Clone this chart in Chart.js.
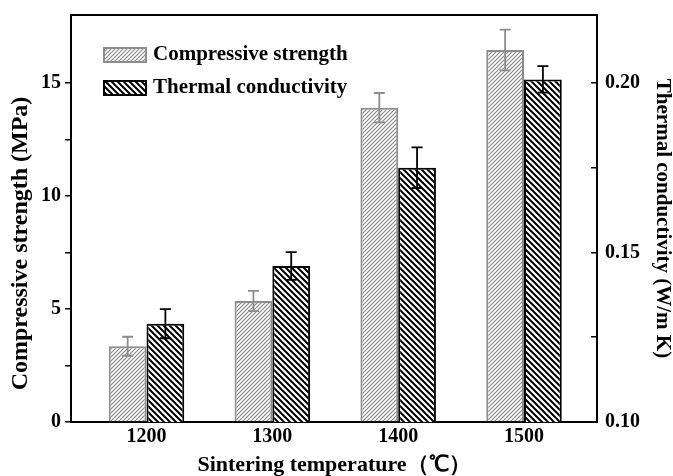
<!DOCTYPE html>
<html>
<head>
<meta charset="utf-8">
<script src="https://cdn.jsdelivr.net/npm/chart.js@4.4.0/dist/chart.umd.min.js"></script>
<style>
  html, body { margin: 0; padding: 0; background: #fff; }
</style>
</head>
<body>
<canvas id="myChart" width="673" height="476"></canvas>
<script>
var temps = [1200, 1300, 1400, 1500];
var compStrength = [3.35, 5.35, 13.9, 16.45];
var compErr = [0.42, 0.45, 0.65, 0.9];
var thermCond = [0.129, 0.146, 0.175, 0.201];
var thermErr = [0.0043, 0.0041, 0.006, 0.0039];
var leftTicks = [0, 5, 10, 15];
var rightTicks = [0.10, 0.15, 0.20];

var serif = "'Liberation Serif', 'Times New Roman', serif";
Chart.defaults.font.family = serif;
Chart.defaults.color = "#000";

var ctx = document.getElementById("myChart").getContext("2d");

// diagonal hatch fill
function hatch(dir, size, lineColor, lineWidth) {
  var c = document.createElement("canvas");
  c.width = size;
  c.height = size;
  var g = c.getContext("2d");
  g.fillStyle = "#fff";
  g.fillRect(0, 0, size, size);
  g.strokeStyle = lineColor;
  g.lineWidth = lineWidth;
  g.beginPath();
  if (dir === "/") {
    g.moveTo(-1, size + 1); g.lineTo(size + 1, -1);
    g.moveTo(-1, 1); g.lineTo(1, -1);
    g.moveTo(size - 1, size + 1); g.lineTo(size + 1, size - 1);
  } else {
    g.moveTo(-1, -1); g.lineTo(size + 1, size + 1);
    g.moveTo(-1, size - 1); g.lineTo(1, size + 1);
    g.moveTo(size - 1, -1); g.lineTo(size + 1, 1);
  }
  g.stroke();
  return ctx.createPattern(c, "repeat");
}

function points(ys) {
  return temps.map(function (t, i) { return { x: t, y: ys[i] }; });
}

function stepTicks(list) {
  return function (v) {
    for (var i = 0; i < list.length; i++) {
      if (Math.abs(list[i] - v) < 1e-9) return v === 0 ? "0" : (list[i] < 1 ? list[i].toFixed(2) : String(list[i]));
    }
    return "";
  };
}

function dropTop(scale) {
  var mx = scale.max;
  scale.ticks = scale.ticks.filter(function (t) { return t.value < mx - 1e-9; });
}

function fixWidth(w) {
  return function (s) {
    s.width = w;
    s.paddingTop = 0;
    s.paddingBottom = 0;
  };
}

var errorBars = {
  id: "errorBars",
  afterDatasetsDraw: function (chart) {
    var c = chart.ctx;
    chart.data.datasets.forEach(function (ds, i) {
      var meta = chart.getDatasetMeta(i);
      var scale = chart.scales[ds.yAxisID];
      c.save();
      c.strokeStyle = ds.borderColor;
      c.lineWidth = 1.8;
      meta.data.forEach(function (bar, j) {
        var v = ds.data[j].y, e = ds.errors[j];
        var yt = scale.getPixelForValue(v + e);
        var yb = scale.getPixelForValue(v - e);
        c.beginPath();
        c.moveTo(bar.x, yt); c.lineTo(bar.x, yb);
        c.moveTo(bar.x - 5.5, yt); c.lineTo(bar.x + 5.5, yt);
        c.moveTo(bar.x - 5.5, yb); c.lineTo(bar.x + 5.5, yb);
        c.stroke();
      });
      c.restore();
    });
  }
};

// top frame line, legend inside the plot, left axis title
var frameAndLegend = {
  id: "frameAndLegend",
  afterDraw: function (chart) {
    var c = chart.ctx, a = chart.chartArea;
    c.save();
    c.strokeStyle = "#000";
    c.lineWidth = 2;
    c.beginPath();
    c.moveTo(a.left - 1, a.top);
    c.lineTo(a.right + 1, a.top);
    c.stroke();

    var x = a.left + 33, y = a.top + 33;
    chart.data.datasets.forEach(function (ds, i) {
      var yy = y + i * 33;
      c.fillStyle = ds.backgroundColor;
      c.fillRect(x, yy, 42, 14);
      c.lineWidth = 2;
      c.strokeStyle = ds.borderColor;
      c.strokeRect(x, yy, 42, 14);
      c.fillStyle = "#000";
      c.font = "bold 21px " + serif;
      c.textBaseline = "middle";
      c.fillText(ds.label, x + 49, yy + 7);
    });

    c.translate(21, (a.top + a.bottom) / 2 + 25);
    c.rotate(-Math.PI / 2);
    c.font = "bold 24px " + serif;
    c.textAlign = "center";
    c.textBaseline = "middle";
    c.fillText("Compressive strength (MPa)", 0, 0);
    c.restore();
  }
};

var myChart = new Chart(ctx, {
  type: "bar",
  data: {
    datasets: [
      {
        label: "Compressive strength",
        data: points(compStrength),
        errors: compErr,
        yAxisID: "y",
        backgroundColor: hatch("/", 4, "#8a8a8a", 1.2),
        borderColor: "#8c8c8c",
        borderWidth: 2
      },
      {
        label: "Thermal conductivity",
        data: points(thermCond),
        errors: thermErr,
        yAxisID: "y1",
        backgroundColor: hatch("\\", 6, "#000", 2),
        borderColor: "#000",
        borderWidth: 2
      }
    ]
  },
  options: {
    responsive: false,
    animation: false,
    layout: { padding: { top: 15, left: 0, right: 0, bottom: 0 } },
    categoryPercentage: 0.6,
    barPercentage: 1.0,
    plugins: { legend: { display: false }, tooltip: { enabled: false } },
    scales: {
      x: {
        type: "linear",
        offset: false,
        min: 1140,
        max: 1558,
        afterBuildTicks: function (s) { s.ticks = temps.map(function (t) { return { value: t }; }); },
        afterFit: function (s) { s.height = 54; s.paddingLeft = 0; s.paddingRight = 0; },
        grid: { display: false, drawTicks: false, offset: false },
        border: { color: "#000", width: 2 },
        ticks: { font: { size: 20, weight: "bold" }, padding: 3, callback: function (v) { return String(v); } },
        title: { display: true, text: "Sintering temperature（℃）", font: { size: 22, weight: "bold", lineHeight: 1 }, padding: 0 }
      },
      y: {
        position: "left",
        min: 0,
        max: 18,
        afterBuildTicks: dropTop,
        afterFit: fixWidth(71),
        grid: { drawOnChartArea: false, color: "#000", lineWidth: 1.5, tickLength: 6 },
        border: { color: "#000", width: 2 },
        ticks: { stepSize: 2.5, padding: 4, font: { size: 20, weight: "bold" }, callback: stepTicks(leftTicks) }
      },
      y1: {
        position: "right",
        min: 0.1,
        max: 0.22,
        afterBuildTicks: dropTop,
        afterFit: fixWidth(76),
        grid: { drawOnChartArea: false, color: "#000", lineWidth: 1.5, tickLength: -6 },
        border: { color: "#000", width: 2 },
        ticks: { stepSize: 0.025, padding: 14, font: { size: 20, weight: "bold" }, callback: stepTicks(rightTicks) },
        title: { display: true, text: "Thermal conductivity (W/m K)", font: { size: 21, weight: "bold", lineHeight: 1 }, padding: { top: 0, bottom: 0 } }
      }
    }
  },
  plugins: [errorBars, frameAndLegend]
});
</script>
</body>
</html>
